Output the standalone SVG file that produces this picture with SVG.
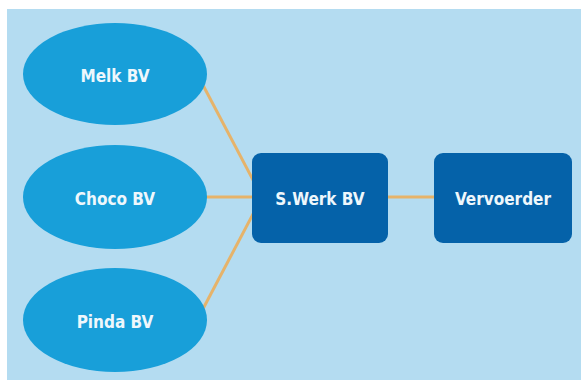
<svg xmlns="http://www.w3.org/2000/svg" width="581" height="380" viewBox="0 0 581 380">
<style>
.ell{fill:#189fd9}
.box{fill:#0562a9}
.lbl{fill:#eef7fc;font-family:"DejaVu Sans Condensed","DejaVu Sans",sans-serif;font-weight:bold;font-size:17px;text-anchor:middle;dominant-baseline:central}
.con{stroke:#e6b36a;stroke-width:3;fill:none}
</style>
<rect x="0" y="0" width="581" height="380" fill="#ffffff"/>
<rect x="7" y="9" width="574" height="371" fill="#b4dcf1"/>
<g id="connectors">
<line class="con" x1="195" y1="70" x2="262" y2="197"/>
<line class="con" x1="200" y1="197" x2="262" y2="197"/>
<line class="con" x1="195" y1="324" x2="262" y2="197"/>
<line class="con" x1="388" y1="197" x2="434" y2="197"/>
</g>
<g id="melk"><ellipse class="ell" cx="115" cy="74" rx="92" ry="51"/><text class="lbl" x="115" y="76">Melk BV</text></g>
<g id="choco"><ellipse class="ell" cx="115" cy="197" rx="92" ry="52"/><text class="lbl" x="115" y="199">Choco BV</text></g>
<g id="pinda"><ellipse class="ell" cx="115" cy="320" rx="92" ry="52"/><text class="lbl" x="115" y="322">Pinda BV</text></g>
<g id="swerk"><rect class="box" x="252" y="153" width="136" height="90" rx="9"/><text class="lbl" x="320" y="199">S.Werk BV</text></g>
<g id="vervoerder"><rect class="box" x="434" y="153" width="138" height="90" rx="9"/><text class="lbl" x="503" y="199">Vervoerder</text></g>
</svg>
